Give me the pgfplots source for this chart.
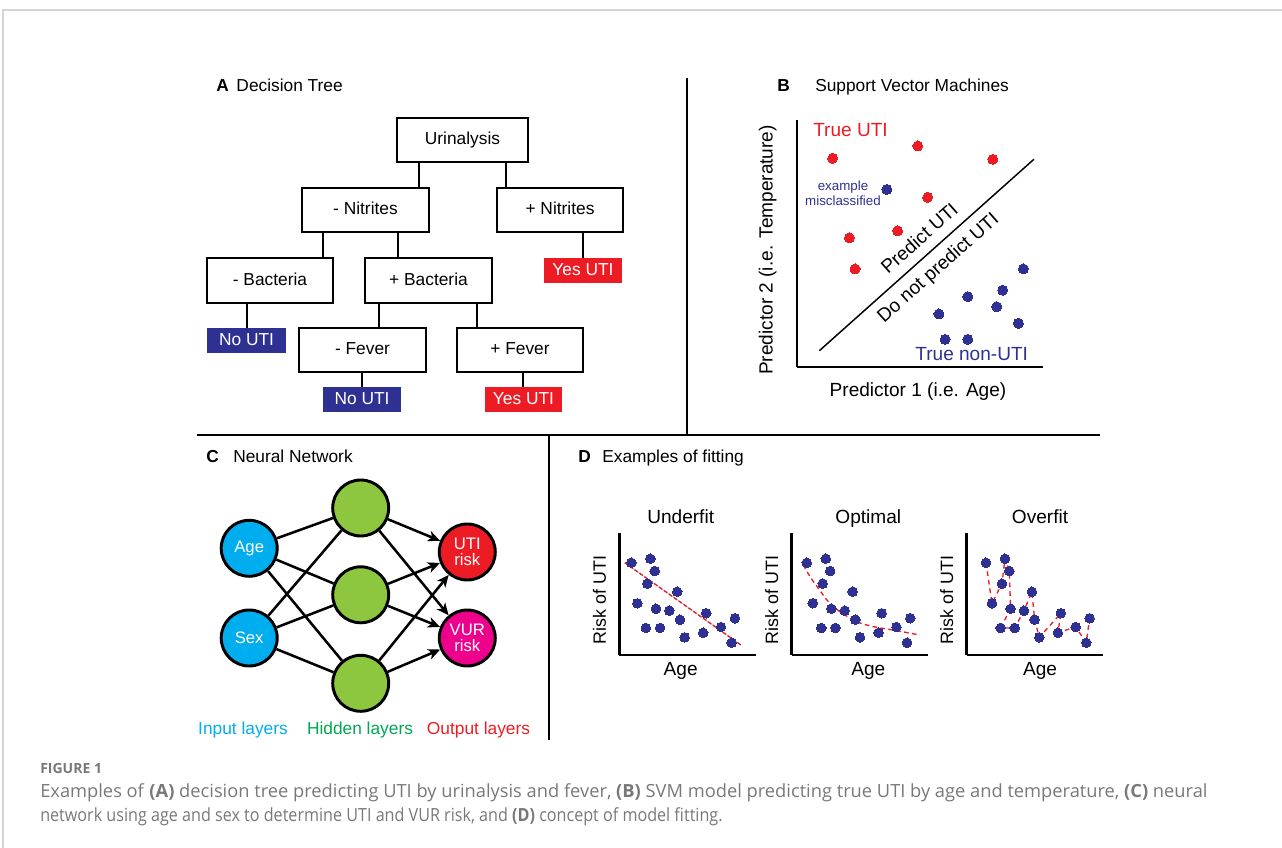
\documentclass[border=0pt]{standalone}
\usepackage{pgfplots}
\pgfplotsset{compat=1.18}
\usepackage{pgfplotstable}
\usepackage{fontspec}
\setmainfont{Liberation Sans}
\newfontfamily\capfont{Open Sans}
\usetikzlibrary{arrows.meta}
\definecolor{navy}{RGB}{46,49,146}
\definecolor{utired}{RGB}{237,28,36}
\definecolor{incyan}{RGB}{0,174,239}
\definecolor{hidgreen}{RGB}{141,198,63}
\definecolor{vurmag}{RGB}{236,0,140}
\definecolor{txtgreen}{RGB}{0,166,81}
\definecolor{capgray}{RGB}{120,120,120}
\definecolor{framegray}{RGB}{212,212,212}

% SVM panel (B)
\pgfplotstableread{
x y
14.5 84.5
49.1 89.5
79.6 84.1
53.1 68.7
40.9 55.1
21.3 52.3
23.6 39.7
}\svmtrue
\pgfplotstableread{
x y
36.5 71.9
92.0 39.7
83.6 31.1
69.4 28.5
81.2 24.4
57.7 21.5
90.0 17.7
60.2 11.2
69.4 11.2
}\svmnon
% fitting panels (D)
\pgfplotstableread{
x y
8.8 75.8
22.7 79.1
25.9 69.0
20.5 58.6
13.2 42.5
26.8 38.0
36.6 36.4
42.4 52.0
44.4 29.0
19.5 22.2
29.8 22.2
47.8 14.5
63.6 34.3
61.4 18.3
74.4 23.0
84.6 30.2
82.2 10.1
}\riskpts
\pgfplotstableread{
x y
6.3 74.0
11.2 64.4
17.3 54.8
24.6 43.8
33.1 35.6
45.3 27.4
57.5 23.3
72.1 20.5
91.7 16.4
}\optfit
\pgfplotstableread{
x y
8.8 75.8
13.2 42.5
20.5 58.6
22.7 79.1
25.9 69.0
26.8 38.0
19.5 22.2
29.8 22.2
36.6 36.4
42.4 52.0
44.4 29.0
47.8 14.5
63.6 34.3
61.4 18.3
74.4 23.0
82.2 10.1
84.6 30.2
}\overfit

\tikzset{
  f13/.style={font=\fontsize{13pt}{15pt}\selectfont},
  f14/.style={font=\fontsize{14.3pt}{17pt}\selectfont},
  box/.style={line width=2.2pt},
}
\pgfplotsset{
  fitax/.style={scale only axis, width=102.5pt, height=91.3pt,
    ymin=0, ymax=100, axis x line*=bottom, axis y line*=left,
    ticks=none, axis line style={line width=2.2pt}, clip=false,
    anchor=south west},
  dots/.style={only marks, mark=*, mark size=3.6pt,
    mark options={fill=navy, draw=navy, line width=0pt}},
}

\begin{document}
\begin{tikzpicture}
\begin{scope}[x=0.75pt,y=-0.75pt]
\useasboundingbox (0,0) rectangle (1282,848);
% frame
\draw[framegray, line width=1.2pt] (3,848) -- (3,10) -- (1282,10);

% dividers
\draw[line width=1.6pt] (687,78) -- (687,435);
\draw[line width=1.6pt] (197,435) -- (1100,435);
\draw[line width=1.6pt] (549,435) -- (549,740);

% panel titles
\node[f13, anchor=mid west, inner sep=0pt] at (216,88) {\textbf{A}\, Decision Tree};
\node[f13, anchor=mid west, inner sep=0pt] at (777,88) {\textbf{B}};
\node[f13, anchor=mid west, inner sep=0pt] at (815,88) {Support Vector Machines};
\node[f13, anchor=mid west, inner sep=0pt] at (206,459) {\textbf{C}};
\node[f13, anchor=mid west, inner sep=0pt] at (233,459) {Neural Network};
\node[f13, anchor=mid west, inner sep=0pt] at (578,459) {\textbf{D}};
\node[f13, anchor=mid west, inner sep=0pt] at (602,459) {Examples of fitting};

% decision tree
\foreach \xa/\ya/\yb in {419/162/188, 506/162/188, 323/232/258, 398/232/258,
  583/232/258, 247/303/328, 379/303/328, 477/303/328, 362/372/387, 523/372/387}
  \draw[box] (\xa,\ya) -- (\xa,\yb);
\foreach \a/\b/\c/\d/\t in {397/118/528/162/Urinalysis, 302/188/429/232/- Nitrites,
  497/188/623/232/+ Nitrites, 207/258/333/303/- Bacteria, 365/258/492/303/+ Bacteria,
  299/328/426/372/- Fever, 457/328/583/372/+ Fever}{
  \draw[box, fill=white] (\a,\b) rectangle (\c,\d);
  \node[f13, anchor=mid, inner sep=0pt] at ({(\a+\c)/2},{(\b+\d)/2+1}) {\t};
}
\fill[utired] (544,258) rectangle (622,283);
\node[f13, white, anchor=mid, inner sep=0pt] at (583,271.5) {Yes UTI};
\fill[navy] (207,328) rectangle (286,353);
\node[f13, white, anchor=mid, inner sep=0pt] at (246.5,341.5) {No UTI};
\fill[navy] (323,387) rectangle (401,412);
\node[f13, white, anchor=mid, inner sep=0pt] at (362,400.5) {No UTI};
\fill[utired] (485,387) rectangle (562,412);
\node[f13, white, anchor=mid, inner sep=0pt] at (523.5,400.5) {Yes UTI};

% neural network
\tikzset{neu/.style={circle, draw=black, line width=2.2pt, minimum size=42pt,
  inner sep=0pt, text=white, align=center,
  font=\fontsize{12.5pt}{11.5pt}\selectfont}}
\node[neu, fill=incyan] (age) at (249.2,548.3) {Age};
\node[neu, fill=incyan] (sex) at (249.2,638) {Sex};
\node[neu, fill=hidgreen] (h1) at (360.7,508) {};
\node[neu, fill=hidgreen] (h2) at (360.7,594.8) {};
\node[neu, fill=hidgreen] (h3) at (360.7,683.3) {};
\node[neu, fill=utired] (uti) at (467.3,552) {UTI\\risk};
\node[neu, fill=vurmag] (vur) at (467.3,638) {VUR\\risk};
\foreach \i in {age,sex}
  \foreach \h in {h1,h2,h3}
    \draw[line width=1.9pt] (\i) -- (\h);
\foreach \h in {h1,h2,h3}
  \foreach \o in {uti,vur}
    \draw[line width=1.9pt, -{Stealth[length=9pt,width=8pt,inset=2.5pt]}] (\h) -- (\o);
\node[f13, incyan, anchor=mid] at (243,731) {Input layers};
\node[f13, txtgreen, anchor=mid] at (360,731) {Hidden layers};
\node[f13, utired, anchor=mid] at (478.5,731) {Output layers};

% SVM labels
\node[f14, anchor=mid] at (918,393) {Predictor 1 (i.e. Age)};
\node[f14, anchor=mid, rotate=90] at (769,250) {Predictor 2 (i.e. Temperature)};

% fitting labels
\foreach \cx/\ax/\t in {680.7/619.3/Underfit, 868.3/791.7/Optimal, 1040/966.7/Overfit}{
  \node[f14, anchor=mid] at (\cx,520) {\t};
  \node[f14, anchor=mid] at (\cx,672) {Age};
  \node[font=\fontsize{13.4pt}{16pt}\selectfont, anchor=mid, rotate=90] at ({\ax-17},600) {Risk of UTI};
}

% caption
\node[anchor=base west, inner sep=0pt, capgray, font=\capfont\fontsize{10.5pt}{12pt}\selectfont\bfseries] at (40,773) {FIGURE 1};
\node[anchor=base west, inner sep=0pt, capgray, font=\capfont\fontsize{13.6pt}{16pt}\selectfont] at (40,797)
  {\scalebox{1.008}[1]{Examples of \textbf{(A)} decision tree predicting UTI by urinalysis and fever, \textbf{(B)} SVM model predicting true UTI by age and temperature, \textbf{(C)} neural}};
\node[anchor=base west, inner sep=0pt, capgray, font=\capfont\fontsize{13.6pt}{16pt}\selectfont] at (40,821)
  {\scalebox{0.89}[1]{network using age and sex to determine UTI and VUR risk, and \textbf{(D)} concept of model fitting.}};
\end{scope}

% ---- B: SVM ----
\begin{axis}[scale only axis, width=184.5pt, height=185.25pt,
  at={(797*0.75pt,-367*0.75pt)}, anchor=south west,
  xmin=0, xmax=100, ymin=0, ymax=100,
  axis x line*=bottom, axis y line*=left, ticks=none,
  axis line style={line width=2.2pt}, clip=false]
\addplot[black, line width=1.1pt] coordinates {(9.1,6.6) (96.3,84.1)};
\addplot[only marks, mark=*, mark size=3.75pt, mark options={fill=utired, draw=utired, line width=0pt}] table {\svmtrue};
\addplot[only marks, mark=*, mark size=3.75pt, mark options={fill=navy, draw=navy, line width=0pt}] table {\svmnon};
\node[f14, utired, anchor=mid west, inner sep=0pt] at (axis cs:6.5,94.8) {True UTI};
\node[f14, navy, anchor=mid west, inner sep=0pt] at (axis cs:48,4.0) {True non-UTI};
\node[navy, align=center, inner sep=0pt, font=\fontsize{10pt}{11.3pt}\selectfont] at (axis cs:18.7,70.2) {example\\misclassified};
\node[f14, rotate=41.6, anchor=mid, inner sep=0pt] at (axis cs:50.6,51.2) {Predict UTI};
\node[f14, rotate=41.6, anchor=mid, inner sep=0pt] at (axis cs:58.0,39.4) {Do not predict UTI};
\end{axis}

% ---- D: Underfit ----
\begin{axis}[fitax, at={(619.3*0.75pt,-655*0.75pt)}, xmin=0, xmax=100]
\addplot[draw=navy!25, line width=0.8pt] coordinates {(4.0,75.8) (89.0,8.2)};
\addplot[utired, line width=1pt, dash pattern=on 3pt off 1.5pt] coordinates {(4.0,75.8) (89.0,8.2)};
\addplot[dots] table {\riskpts};
\end{axis}

% ---- D: Optimal ----
\begin{axis}[fitax, at={(791.7*0.75pt,-655*0.75pt)}, xmin=-2.2, xmax=97.8]
\addplot[utired, line width=1pt, dash pattern=on 3.5pt off 2.5pt, smooth] table {\optfit};
\addplot[dots] table {\riskpts};
\end{axis}

% ---- D: Overfit ----
\begin{axis}[fitax, at={(966.7*0.75pt,-655*0.75pt)}, xmin=-5.3, xmax=94.7]
\addplot[utired, line width=1pt, dash pattern=on 3.5pt off 3pt] table {\overfit};
\addplot[dots] table {\riskpts};
\end{axis}
\end{tikzpicture}
\end{document}
